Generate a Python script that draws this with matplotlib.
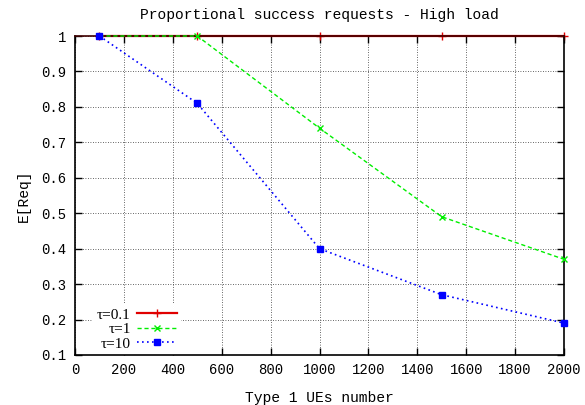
import matplotlib
matplotlib.use("Agg")
import matplotlib.pyplot as plt

x = [100, 500, 1000, 1500, 2000]
tau01 = [1.0, 1.0, 1.0, 1.0, 1.0]
tau1 = [1.0, 1.0, 0.74, 0.49, 0.37]
tau10 = [1.0, 0.81, 0.40, 0.27, 0.19]
xticks = [0, 200, 400, 600, 800, 1000, 1200, 1400, 1600, 1800, 2000]
yticks = [0.1, 0.2, 0.3, 0.4, 0.5, 0.6, 0.7, 0.8, 0.9, 1.0]

mono = "Liberation Mono"
fig = plt.figure(figsize=(5.85, 4.05), dpi=100)
ax = fig.add_axes([75/585, 50/405, 489/585, 319/405])

ax.plot(x, tau01, color="#e00000", ls="-", lw=1.6, marker="+", ms=6, mew=1,
        label="τ=0.1", clip_on=False, zorder=2.4)
ax.plot(x, tau1, color="#00ee00", ls=(0, (3, 2)), lw=1, marker="x", ms=5, mew=1,
        label="τ=1", clip_on=False, zorder=3)
ax.plot(x, tau10, color="#0000ff", ls=(0, (1, 2)), lw=1.2, marker="s", ms=4, mew=1,
        label="τ=10", clip_on=False, zorder=3)

ax.set_xlim(0, 2000)
ax.set_ylim(0.1, 1.0)
ax.set_xticks(xticks)
ax.set_yticks(yticks)
ax.set_xticklabels([str(v) for v in xticks], family=mono, fontsize=10)
ax.set_yticklabels([("%g" % v) for v in yticks], family=mono, fontsize=10)
ax.tick_params(direction="in", top=True, right=True, length=5, width=1, pad=6)
ax.grid(True, color="#333333", ls=(0, (1, 2)), lw=0.6)
ax.set_axisbelow(True)
for s in ax.spines.values():
    s.set_linewidth(1.2)
ax.spines["top"].set_color("#400000")

ax.set_title("Proportional success requests - High load", family=mono, fontsize=10.5, pad=12)
ax.set_xlabel("Type 1 UEs number", family=mono, fontsize=10.5, labelpad=10)
ax.set_ylabel("E[Req]", family=mono, fontsize=10.5, labelpad=8)

leg = ax.legend(loc="lower left", bbox_to_anchor=(0.02, -0.025), markerfirst=False,
                frameon=True, framealpha=1, edgecolor="none", fancybox=False,
                prop={"family": "Liberation Serif", "size": 11}, handlelength=2.6,
                handletextpad=0.4, labelspacing=0.05, borderpad=0.3)
leg.set_zorder(2.3)

fig.savefig("out.png", dpi=100)
